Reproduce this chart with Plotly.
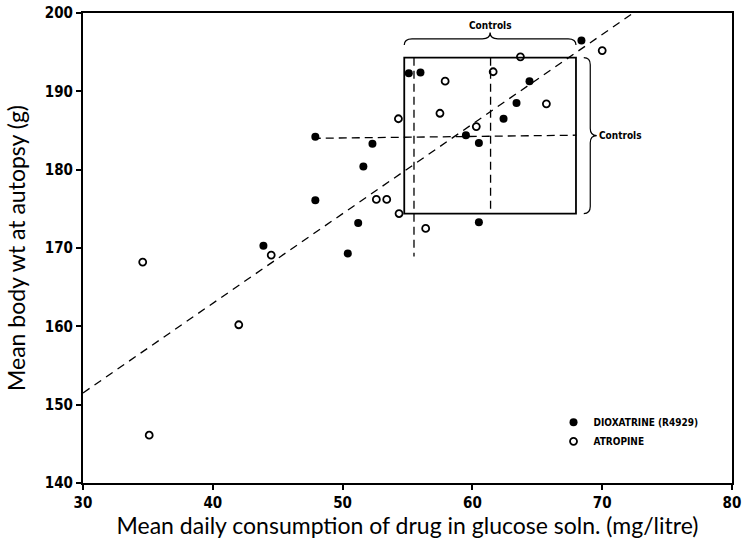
import plotly.graph_objects as go

# ---- data ----
dioxatrine_x = [68.4, 55.1, 56.0, 64.4, 63.4, 62.4, 59.5, 60.5, 47.9, 52.3, 51.6, 47.9, 51.2, 60.5, 43.9, 50.4]
dioxatrine_y = [196.5, 192.3, 192.4, 191.3, 188.5, 186.5, 184.4, 183.4, 184.2, 183.3, 180.4, 176.1, 173.2, 173.3, 170.3, 169.3]

atropine_x = [70.0, 63.7, 57.9, 61.6, 65.7, 57.5, 54.3, 60.3, 53.4, 52.6, 54.35, 56.4, 44.5, 34.6, 42.0, 35.1]
atropine_y = [195.2, 194.4, 191.3, 192.5, 188.4, 187.2, 186.5, 185.5, 176.2, 176.2, 174.4, 172.5, 169.1, 168.2, 160.2, 146.1]

# controls region (x range, y range) and the dashed mean/limit lines
control_x_range = [54.75, 67.98]
control_y_range = [174.4, 194.3]
control_x_lines = [55.5, 61.4]          # vertical dashed lines
control_x_line_bottoms = [168.9, 174.4]
control_y_line = [184.0, 184.4]         # horizontal dashed line (left y, right y)
control_y_line_x = [47.7, 68.0]

# regression line y = intercept + slope*(x - 30)
reg_intercept = 151.5
reg_slope = 1.144

x_ticks = [30, 40, 50, 60, 70, 80]
y_ticks = [140, 150, 160, 170, 180, 190, 200]
x_range = [30, 80]
y_range = [140, 200]

TICK_FONT = dict(family="Liberation Sans Narrow, DejaVu Sans Condensed, Arial Narrow, Roboto, sans-serif",
                 size=15, color="black", weight="bold")
TITLE_FONT = dict(family="Lato, Open Sans, sans-serif", size=23, color="black")
SMALL_FONT = dict(family="Liberation Sans Narrow, DejaVu Sans Condensed, Arial Narrow, Roboto, sans-serif",
                  size=10, color="black", weight="bold")

fig = go.Figure()
fig.add_trace(go.Scatter(
    x=dioxatrine_x, y=dioxatrine_y, mode="markers", name="DIOXATRINE (R4929)",
    marker=dict(symbol="circle", size=8, color="black")))
fig.add_trace(go.Scatter(
    x=atropine_x, y=atropine_y, mode="markers", name="ATROPINE",
    marker=dict(symbol="circle-open", size=7, color="black", line=dict(width=1.8))))

shapes = []
# regression line
x_end = x_range[0] + (y_range[1] - reg_intercept) / reg_slope
shapes.append(dict(type="line", xref="x", yref="y", x0=x_range[0], y0=reg_intercept,
                   x1=x_end, y1=y_range[1], line=dict(color="black", width=1.3, dash="8px,6px")))
# control box
shapes.append(dict(type="rect", xref="x", yref="y", x0=control_x_range[0], x1=control_x_range[1],
                   y0=control_y_range[0], y1=control_y_range[1], line=dict(color="black", width=1.8)))
# dashed vertical lines
for xv, yb in zip(control_x_lines, control_x_line_bottoms):
    shapes.append(dict(type="line", xref="x", yref="y", x0=xv, x1=xv, y0=control_y_range[1], y1=yb,
                       line=dict(color="black", width=1.3, dash="8px,5px")))
# dashed horizontal line
shapes.append(dict(type="line", xref="x", yref="y", x0=control_y_line_x[0], x1=control_y_line_x[1],
                   y0=control_y_line[0], y1=control_y_line[1],
                   line=dict(color="black", width=1.3, dash="8px,5px")))

# braces
def hbrace(x0, x1, yb, d, w):
    xm = (x0 + x1) / 2
    return (f"M {x0},{yb - d} Q {x0},{yb} {x0 + w},{yb} L {xm - w},{yb} "
            f"Q {xm},{yb} {xm},{yb + d} Q {xm},{yb} {xm + w},{yb} L {x1 - w},{yb} "
            f"Q {x1},{yb} {x1},{yb - d}")

def vbrace(y0, y1, xb, d, h):
    ym = (y0 + y1) / 2
    return (f"M {xb - d},{y0} Q {xb},{y0} {xb},{y0 + h} L {xb},{ym - h} "
            f"Q {xb},{ym} {xb + d},{ym} Q {xb},{ym} {xb},{ym + h} L {xb},{y1 - h} "
            f"Q {xb},{y1} {xb - d},{y1}")

top_brace_y = control_y_range[1] + 2.4
right_brace_x = control_x_range[1] + 1.1
shapes.append(dict(type="path", xref="x", yref="y",
                   path=hbrace(control_x_range[0], control_x_range[1], top_brace_y, 0.8, 0.6),
                   line=dict(color="black", width=1.2)))
shapes.append(dict(type="path", xref="x", yref="y",
                   path=vbrace(control_y_range[0], control_y_range[1], right_brace_x, 0.5, 0.9),
                   line=dict(color="black", width=1.2)))

annotations = [
    dict(text="Controls", x=sum(control_x_range) / 2, y=top_brace_y + 0.8, xref="x", yref="y",
         showarrow=False, yanchor="bottom", font=SMALL_FONT),
    dict(text="Controls", x=right_brace_x + 0.5, y=sum(control_y_range) / 2, xref="x", yref="y",
         showarrow=False, xanchor="left", font=SMALL_FONT),
]

fig.update_layout(
    width=743, height=539,
    margin=dict(l=83, r=11, t=13, b=56, autoexpand=False),
    plot_bgcolor="white", paper_bgcolor="white",
    shapes=shapes, annotations=annotations,
    showlegend=True,
    legend=dict(x=0.725, y=0.16, xanchor="left", yanchor="top", bgcolor="rgba(0,0,0,0)",
                font=SMALL_FONT, tracegroupgap=0, itemwidth=30),
)
fig.update_xaxes(range=x_range, tickvals=x_ticks, showgrid=False, zeroline=False,
                 showline=True, linecolor="black", linewidth=2, mirror=True,
                 ticks="outside", ticklen=5, tickwidth=2, tickcolor="black",
                 tickfont=TICK_FONT, automargin=True,
                 title=dict(text="Mean daily consumption of drug in glucose soln. (mg/litre)",
                            font=TITLE_FONT, standoff=1))
fig.update_yaxes(range=y_range, tickvals=y_ticks, showgrid=False, zeroline=False,
                 showline=True, linecolor="black", linewidth=2, mirror=True,
                 ticks="outside", ticklen=5, tickwidth=2, tickcolor="black",
                 tickfont=TICK_FONT, automargin=True,
                 title=dict(text="Mean body wt at autopsy (g)", font=TITLE_FONT, standoff=13))

fig.write_html("out.html", config={"displayModeBar": False},
               post_script="document.body.style.margin='0px';document.body.style.overflow='hidden';")
